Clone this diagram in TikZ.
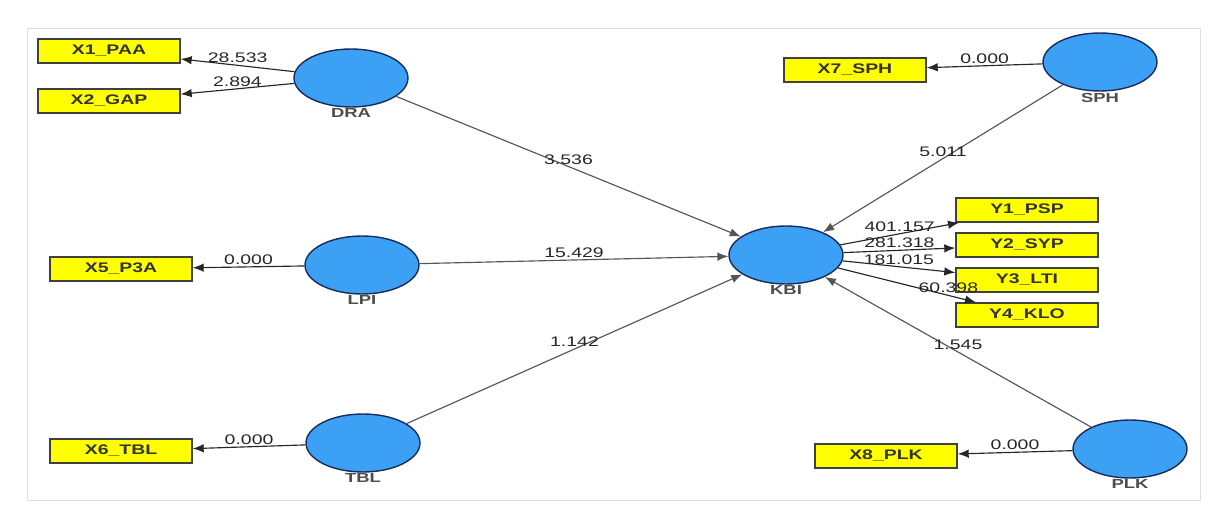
\documentclass[tikz,border=0pt]{standalone}
\usepackage{fontspec}
\setmainfont{Liberation Sans}
\usetikzlibrary{arrows.meta,shapes.geometric}
\definecolor{latblue}{RGB}{60,160,245}
\definecolor{latedge}{RGB}{25,45,90}
\definecolor{indyel}{RGB}{255,255,0}
\definecolor{lineg}{RGB}{85,85,85}
\newcommand{\wide}[1]{\scalebox{1.4}[1]{#1}}

\begin{document}
\begin{tikzpicture}[x=0.02cm,y=-0.02cm,
  lat/.style={draw=latedge,line width=0.8pt,ellipse,fill=latblue,minimum width=2.28cm,minimum height=1.16cm,inner sep=0pt,label distance=1pt},
  ind/.style={draw=black!75,line width=0.8pt,fill=indyel,minimum width=2.84cm,minimum height=0.48cm,inner sep=0pt,font=\fontsize{7.9}{9}\selectfont\bfseries,text=black!80},
  lbl/.style={font=\fontsize{7.5}{9}\selectfont\bfseries,text=black!70,inner sep=0.5pt},
  val/.style={font=\fontsize{7.9}{9}\selectfont,text=black!85,above,inner sep=1pt},
  load/.style={-{Latex[length=2.2mm,width=1.7mm]},line width=0.65pt,black!85},
  struct/.style={-{Latex[length=2.2mm,width=1.7mm]},line width=0.65pt,lineg}]
\useasboundingbox (0,0) rectangle (1225,513);
\draw[black!12] (27,28) rectangle (1200,500);
% latent variables
\node[lat,label={[lbl]below:\wide{DRA}}] (dra) at (351,78) {};
\node[lat,label={[lbl]below:\wide{LPI}}] (lpi) at (362,265) {};
\node[lat,label={[lbl]below:\wide{TBL}}] (tbl) at (363,443) {};
\node[lat,label={[lbl]below:\wide{KBI}}] (kbi) at (786,255) {};
\node[lat,label={[lbl]below:\wide{SPH}}] (sph) at (1100,62) {};
\node[lat,label={[lbl]below:\wide{PLK}}] (plk) at (1130,449) {};
% indicators
\node[ind] (x1) at (109,51) {\wide{X1\_PAA}};
\node[ind] (x2) at (109,101) {\wide{X2\_GAP}};
\node[ind] (x5) at (121,269) {\wide{X5\_P3A}};
\node[ind] (x6) at (121,451) {\wide{X6\_TBL}};
\node[ind] (x7) at (855,70) {\wide{X7\_SPH}};
\node[ind] (x8) at (886,456) {\wide{X8\_PLK}};
\node[ind] (y1) at (1027,210) {\wide{Y1\_PSP}};
\node[ind] (y2) at (1027,245) {\wide{Y2\_SYP}};
\node[ind] (y3) at (1027,280) {\wide{Y3\_LTI}};
\node[ind] (y4) at (1027,315) {\wide{Y4\_KLO}};
% outer model
\draw[load] (dra) -- node[val]{\wide{28.533}} (x1);
\draw[load] (dra) -- node[val]{\wide{2.894}} (x2);
\draw[load] (lpi) -- node[val]{\wide{0.000}} (x5);
\draw[load] (tbl) -- node[val]{\wide{0.000}} (x6);
\draw[load] (sph) -- node[val]{\wide{0.000}} (x7);
\draw[load] (plk) -- node[val]{\wide{0.000}} (x8);
\draw[load] (kbi) -- node[val]{\wide{401.157}} (y1);
\draw[load] (kbi) -- node[val]{\wide{281.318}} (y2);
\draw[load] (kbi) -- node[val]{\wide{181.015}} (y3);
\draw[load] (kbi) -- node[val,pos=.8]{\wide{60.398}} (y4);
% inner model
\draw[struct] (dra) -- node[val]{\wide{3.536}} (kbi);
\draw[struct] (lpi) -- node[val]{\wide{15.429}} (kbi);
\draw[struct] (tbl) -- node[val]{\wide{1.142}} (kbi);
\draw[struct] (sph) -- node[val]{\wide{5.011}} (kbi);
\draw[struct] (plk) -- node[val]{\wide{1.545}} (kbi);
\end{tikzpicture}
\end{document}
